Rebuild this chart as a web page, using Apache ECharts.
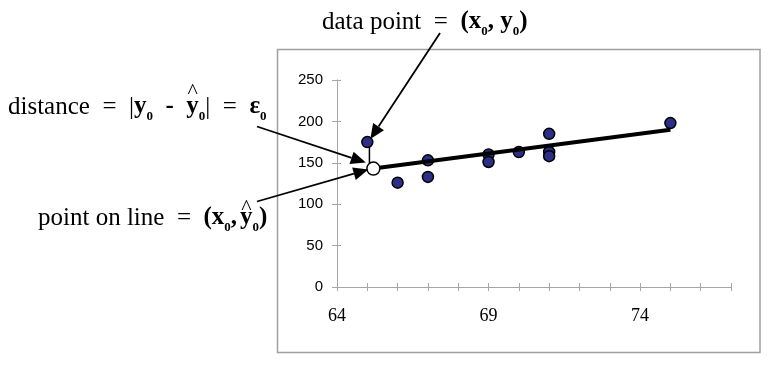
<!DOCTYPE html>
<html>
<head>
<meta charset="utf-8">
<script src="https://cdn.jsdelivr.net/npm/echarts@6/dist/echarts.min.js"></script>
<style>html,body{margin:0;padding:0;background:#fff}#c{width:782px;height:366px}</style>
</head>
<body>
<div id="c"></div>
<script>
// ---- data ----
var heights = [65, 66, 67, 67, 69, 69, 70, 71, 71, 71, 75];
var weights = [175, 126, 153, 133, 160, 151, 163, 185, 163, 158, 198];
var lineX = [65.2, 75];
var lineY = [143, 190];
var pointOnLine = [65.2, 143];
var dataPoint = [65, 175];
var xTickLabels = [64, 69, 74];
var yTickLabels = [0, 50, 100, 150, 200, 250];

var chart = echarts.init(document.getElementById('c'), null, {renderer: 'canvas'});

var scatterData = heights.map(function (h, i) { return [h, weights[i]]; });
var regLine = lineX.map(function (x, i) { return [x, lineY[i]]; });

var axisGrey = '#a6a6a6';
var baseX = {
  type: 'value', min: 64, max: 77, interval: 1, position: 'bottom',
  axisLine: {onZero: false, lineStyle: {color: axisGrey, width: 1}},
  splitLine: {show: false}
};
var baseY = {
  type: 'value', min: 0, max: 250, interval: 50, position: 'left',
  axisLine: {show: true, lineStyle: {color: axisGrey, width: 1}},
  splitLine: {show: false}
};

chart.setOption({
  animation: false,
  backgroundColor: '#fff',
  grid: {left: 337, right: 51, top: 80, bottom: 79, containLabel: false, outerBoundsMode: 'none'},
  xAxis: [
    Object.assign({}, baseX, {
      axisTick: {show: true, inside: false, length: 4, lineStyle: {color: axisGrey}},
      axisLabel: {
        margin: 20, color: '#000', fontSize: 18, fontFamily: '"Liberation Serif", "Times New Roman", serif',
        formatter: function (v) { return xTickLabels.indexOf(v) >= 0 ? String(v) : ''; }
      }
    }),
    Object.assign({}, baseX, {
      axisTick: {show: true, inside: true, length: 4, lineStyle: {color: axisGrey}},
      axisLabel: {show: false}
    })
  ],
  yAxis: [
    Object.assign({}, baseY, {
      axisTick: {show: true, inside: false, length: 5, lineStyle: {color: axisGrey}},
      axisLabel: {
        margin: 14, color: '#000', fontSize: 15, fontFamily: '"Liberation Sans", Arial, sans-serif',
        formatter: function (v) { return yTickLabels.indexOf(v) >= 0 ? String(v) : ''; }
      }
    }),
    Object.assign({}, baseY, {
      axisTick: {show: true, inside: true, length: 4, lineStyle: {color: axisGrey}},
      axisLabel: {show: false}
    })
  ],
  series: [
    {
      type: 'scatter', data: scatterData, symbolSize: 11, z: 3,
      itemStyle: {color: '#2c2f85', borderColor: '#000', borderWidth: 1.5, opacity: 1}
    },
    {
      type: 'line', data: regLine, showSymbol: false, z: 4,
      lineStyle: {color: '#000', width: 4}
    },
    {
      type: 'line', data: [[dataPoint[0] + 0.07, dataPoint[1]], [dataPoint[0] + 0.07, pointOnLine[1] + 6]],
      showSymbol: false, z: 2, lineStyle: {color: '#000', width: 1.5}
    },
    {
      type: 'scatter', data: [pointOnLine], symbolSize: 13, z: 5,
      itemStyle: {color: '#fff', borderColor: '#000', borderWidth: 1.5, opacity: 1}
    }
  ]
});

// ---- annotations ----
var measureCtx = document.createElement('canvas').getContext('2d');
var FONTS = {
  r: '25px "Liberation Serif"',
  b: 'bold 25px "Liberation Serif"',
  s: 'bold 13px "Liberation Serif"',
  h: '22px "Liberation Serif"'
};
var SIZES = {r: 25, b: 25, s: 13, h: 22};
function label(pieces, x0, base) {
  var els = [];
  var x = x0;
  pieces.forEach(function (p) {
    measureCtx.font = FONTS[p.f];
    var w = measureCtx.measureText(p.t).width;
    var dy = p.dy || 0;
    els.push({
      type: 'text', z: 100,
      style: {
        text: p.t, x: x + (p.dx || 0), y: base + dy - 0.32 * SIZES[p.f],
        font: FONTS[p.f], fill: '#000', align: 'left', verticalAlign: 'middle'
      }
    });
    if (p.hat) {
      els.push({
        type: 'text', z: 100,
        style: {
          text: '^', x: x + (p.dx || 0) + w - (p.hatBack || w / 2), y: base + p.hat, font: FONTS.h, fill: '#000',
          align: 'center', verticalAlign: 'middle'
        }
      });
    }
    x += w + (p.dx || 0);
  });
  return els;
}
function arrow(tail, tip) {
  var dx = tip[0] - tail[0], dy = tip[1] - tail[1];
  var len = Math.sqrt(dx * dx + dy * dy);
  var ux = dx / len, uy = dy / len;
  var L = 15, W = 6.5;
  var bx = tip[0] - ux * L, by = tip[1] - uy * L;
  return [
    {type: 'line', z: 90, shape: {x1: tail[0], y1: tail[1], x2: bx, y2: by},
     style: {stroke: '#000', lineWidth: 1.8}},
    {type: 'polygon', z: 90, shape: {points: [[tip[0], tip[1]], [bx - uy * W, by + ux * W], [bx + uy * W, by - ux * W]]},
     style: {fill: '#000'}}
  ];
}

var pData = chart.convertToPixel({xAxisIndex: 0, yAxisIndex: 0}, dataPoint);
var pLine = chart.convertToPixel({xAxisIndex: 0, yAxisIndex: 0}, pointOnLine);

var g = [];
g.push({type: 'rect', z: 0, shape: {x: 277.5, y: 49.5, width: 482.5, height: 303},
        style: {fill: 'none', stroke: '#a0a0a0', lineWidth: 1.5}});

g = g.concat(label([
  {t: 'data point  =  ', f: 'r'},
  {t: '(x', f: 'b'},
  {t: '0', f: 's', dy: 6},
  {t: ', y', f: 'b'},
  {t: '0', f: 's', dy: 6},
  {t: ')', f: 'b'}
], 322, 30));

g = g.concat(label([
  {t: 'distance  =  ', f: 'r'},
  {t: '|', f: 'r'},
  {t: 'y', f: 'b'},
  {t: '0', f: 's', dy: 6},
  {t: '  -  ', f: 'b'},
  {t: 'y', f: 'b', hat: -23},
  {t: '0', f: 's', dy: 6},
  {t: '|  =  ', f: 'r'},
  {t: '\u03b5', f: 'b'},
  {t: '0', f: 's', dy: 6}
], 8, 115));

g = g.concat(label([
  {t: 'point on line  =  ', f: 'r'},
  {t: '(x', f: 'b'},
  {t: '0', f: 's', dy: 6},
  {t: ',', f: 'b'},
  {t: 'y', f: 'b', dx: 3, hat: -18},
  {t: '0', f: 's', dy: 6},
  {t: ')', f: 'b'}
], 38, 226));

g = g.concat(arrow([440, 33], [pData[0] + 3, pData[1] - 3]));
g = g.concat(arrow([257, 126.5], [pData[0] - 1.5, pLine[1] - 6]));
g = g.concat(arrow([257, 201.5], [pLine[0] - 5, pLine[1] + 1]));

chart.setOption({graphic: g});
</script>
</body>
</html>
